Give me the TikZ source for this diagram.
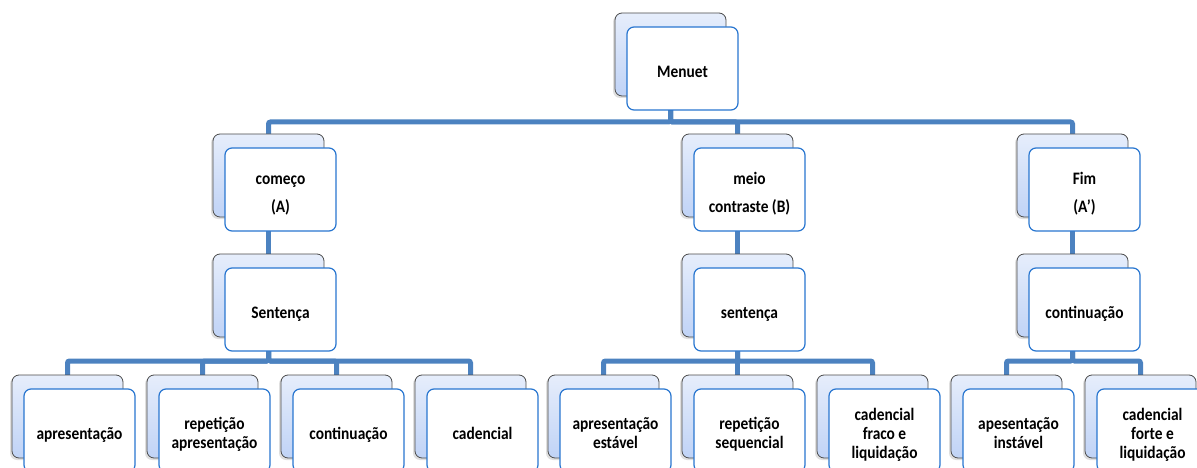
\documentclass[tikz,border=0pt]{standalone}
\usepackage{fontspec}
\newfontfamily\boxfont{Carlito}[FakeStretch=0.88]
\usetikzlibrary{shadows,backgrounds}
\definecolor{connblue}{RGB}{76,130,192}
\definecolor{frontline}{RGB}{40,118,208}
\definecolor{backline}{RGB}{75,75,75}
\definecolor{backblue}{RGB}{192,211,246}
\tikzset{
  backbox/.style={draw=backline, line width=0.8pt, rounded corners=7pt,
    minimum width=111pt, minimum height=83pt, inner sep=0pt,
    top color=white!60!backblue, bottom color=backblue,
    drop shadow={shadow xshift=-2pt, shadow yshift=-2pt, opacity=0.25}},
  frontbox/.style={draw=frontline, line width=1.2pt, rounded corners=7pt,
    fill=white, minimum width=111pt, minimum height=83pt, inner sep=0pt,
    text=black, font=\boxfont\bfseries\fontsize{17.5}{19}\selectfont},
  connector/.style={draw=connblue, line width=5pt, rounded corners=2pt}
}
\newcommand\stackbox[4]{%
  \node[backbox] (b-#1) at ({#2+55.5},{#3+41.5}) {};
  \node[frontbox] (#1) at ({#2+67.5},{#3+55.5})
    {\raisebox{-5pt}[\height][\depth]{\begin{tabular}{@{}c@{}}#4\end{tabular}}};
}
\begin{document}
\begin{tikzpicture}[x=1pt,y=-1pt]
\useasboundingbox (0,0) rectangle (1197,468);
% level 1
\stackbox{menuet}{615}{13}{Menuet}
% level 2
\stackbox{comeco}{213}{134}{começo\\[9pt](A)}
\stackbox{meio}{682}{134}{meio\\[9pt]contraste (B)}
\stackbox{fim}{1017}{134}{Fim\\[9pt](A’)}
% level 3
\stackbox{sentA}{213}{254}{Sentença}
\stackbox{sentB}{682}{254}{sentença}
\stackbox{contC}{1017}{254}{continuação}
% level 4
\stackbox{apres}{12}{375}{apresentação}
\stackbox{repap}{147}{375}{repetição\\apresentação}
\stackbox{cont}{281}{375}{continuação}
\stackbox{cad}{415}{375}{cadencial}
\stackbox{apest}{548}{375}{apresentação\\estável}
\stackbox{repseq}{682}{375}{repetição\\sequencial}
\stackbox{cadfr}{817}{375}{cadencial\\fraco e\\liquidação}
\stackbox{apinst}{951}{375}{apesentação\\instável}
\stackbox{cadfo}{1085}{375}{cadencial\\forte e\\liquidação}
\begin{scope}[on background layer]
  \coordinate (bar1) at (0,122);
  \coordinate (bar3) at (0,361);
  \foreach \n in {comeco,meio,fim}
    \draw[connector] (b-menuet.center) -- (b-menuet.center |- bar1) -| (b-\n.center);
  \draw[connector] (b-comeco.center) -- (b-sentA.center);
  \draw[connector] (b-meio.center) -- (b-sentB.center);
  \draw[connector] (b-fim.center) -- (b-contC.center);
  \foreach \n in {apres,repap,cont,cad}
    \draw[connector] (b-sentA.center) -- (b-sentA.center |- bar3) -| (b-\n.center);
  \foreach \n in {apest,repseq,cadfr}
    \draw[connector] (b-sentB.center) -- (b-sentB.center |- bar3) -| (b-\n.center);
  \foreach \n in {apinst,cadfo}
    \draw[connector] (b-contC.center) -- (b-contC.center |- bar3) -| (b-\n.center);
\end{scope}
\end{tikzpicture}
\end{document}
